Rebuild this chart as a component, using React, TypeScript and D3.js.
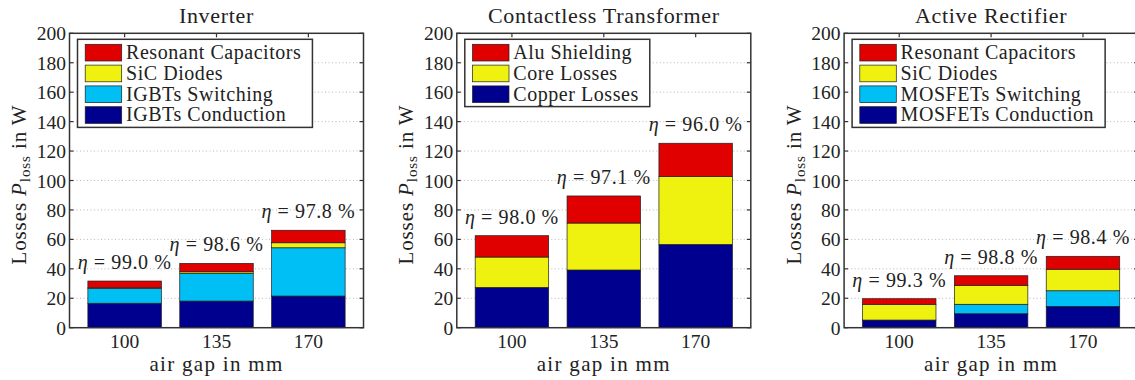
import React, { useEffect, useRef } from "react";
import * as d3 from "d3";

// Air gap categories shared by the three panels
const gaps = ["100", "135", "170"];
const yTicks = [0, 20, 40, 60, 80, 100, 120, 140, 160, 180, 200];

// Inverter losses in W (bottom to top of the stack)
const invConduction = [16.6, 18.1, 21.5];
const invSwitching = [10.2, 18.9, 32.8];
const invDiodes = [0.3, 1.0, 3.4];
const invCapacitors = [4.6, 5.7, 8.5];
const invEta = ["99.0", "98.6", "97.8"];

// Contactless transformer losses in W
const trCopper = [27.4, 39.2, 56.6];
const trCore = [20.6, 31.9, 46.2];
const trAlu = [14.5, 18.4, 22.5];
const trEta = ["98.0", "97.1", "96.0"];

// Active rectifier losses in W
const recConduction = [5.2, 9.5, 14.5];
const recSwitching = [0, 6.4, 10.6];
const recDiodes = [10.7, 12.9, 14.6];
const recCapacitors = [3.8, 6.5, 8.8];
const recEta = ["99.3", "98.8", "98.4"];

const NAVY = "#00008f";
const CYAN = "#00bff5";
const YELLOW = "#eef20e";
const RED = "#e00000";
const INK = "#222";
const FONT = "Liberation Serif, DejaVu Serif, serif";

type Series = { name: string; values: number[]; color: string };
type Panel = { title: string; series: Series[]; eta: string[] };

const panels: Panel[] = [
  {
    title: "Inverter",
    series: [
      { name: "IGBTs Conduction", values: invConduction, color: NAVY },
      { name: "IGBTs Switching", values: invSwitching, color: CYAN },
      { name: "SiC Diodes", values: invDiodes, color: YELLOW },
      { name: "Resonant Capacitors", values: invCapacitors, color: RED },
    ],
    eta: invEta,
  },
  {
    title: "Contactless Transformer",
    series: [
      { name: "Copper Losses", values: trCopper, color: NAVY },
      { name: "Core Losses", values: trCore, color: YELLOW },
      { name: "Alu Shielding", values: trAlu, color: RED },
    ],
    eta: trEta,
  },
  {
    title: "Active Rectifier",
    series: [
      { name: "MOSFETs Conduction", values: recConduction, color: NAVY },
      { name: "MOSFETs Switching", values: recSwitching, color: CYAN },
      { name: "SiC Diodes", values: recDiodes, color: YELLOW },
      { name: "Resonant Capacitors", values: recCapacitors, color: RED },
    ],
    eta: recEta,
  },
];

const W = 1135;
const H = 380;

export default function App() {
  const ref = useRef<SVGSVGElement | null>(null);

  useEffect(() => {
    const svg = d3.select(ref.current);
    svg.selectAll("*").remove();

    const top = 33.3;
    const bottom = 327.7;
    const axisW = 294;

    panels.forEach((p, i) => {
      const left = 69.5 + i * 387.3;
      const right = left + axisW;
      const x = d3.scaleBand<string>().domain(gaps).range([left, right]).paddingInner(0.2).paddingOuter(0.2);
      const y = d3.scaleLinear().domain([0, 200]).range([bottom, top]);
      const bw = x.bandwidth();
      const cx = (g: string) => (x(g) as number) + bw / 2;

      const g = svg.append("g").style("font-family", FONT).attr("fill", INK);

      // dotted horizontal grid
      g.append("g")
        .selectAll("line")
        .data(yTicks.filter((t) => t > 0 && t < 200))
        .join("line")
        .attr("x1", left)
        .attr("x2", right)
        .attr("y1", (d) => y(d))
        .attr("y2", (d) => y(d))
        .attr("stroke", "#b8b8b8")
        .attr("stroke-width", 1)
        .attr("stroke-dasharray", "1,2.5");

      // inward ticks on all four sides
      const ticks = g.append("g").attr("stroke", "#333").attr("stroke-width", 1.2);
      yTicks.forEach((t) => {
        ticks.append("line").attr("x1", left).attr("x2", left + 4).attr("y1", y(t)).attr("y2", y(t));
        ticks.append("line").attr("x1", right - 4).attr("x2", right).attr("y1", y(t)).attr("y2", y(t));
      });
      gaps.forEach((c) => {
        ticks.append("line").attr("x1", cx(c)).attr("x2", cx(c)).attr("y1", top).attr("y2", top + 4);
        ticks.append("line").attr("x1", cx(c)).attr("x2", cx(c)).attr("y1", bottom - 4).attr("y2", bottom);
      });

      // stacked bars
      const rows = gaps.map((gap, j) => {
        const r: Record<string, any> = { gap };
        p.series.forEach((s) => (r[s.name] = s.values[j]));
        return r;
      });
      const layers = d3.stack<Record<string, any>>().keys(p.series.map((s) => s.name))(rows);
      layers.forEach((layer, k) => {
        g.append("g")
          .attr("fill", p.series[k].color)
          .attr("stroke", "#1e1e1e")
          .attr("stroke-width", 0.7)
          .selectAll("rect")
          .data(layer)
          .join("rect")
          .attr("x", (d) => x(d.data.gap) as number)
          .attr("y", (d) => y(d[1]))
          .attr("width", bw)
          .attr("height", (d) => y(d[0]) - y(d[1]));
      });

      // efficiency labels above each bar
      const totals = layers[layers.length - 1];
      totals.forEach((d, j) => {
        const t = g
          .append("text")
          .attr("x", cx(d.data.gap))
          .attr("y", y(d[1]) - 12)
          .attr("text-anchor", "middle")
          .attr("font-size", 20)
          .attr("letter-spacing", 0.6)
          .style("white-space", "pre");
        t.append("tspan").attr("font-style", "italic").text("η");
        t.append("tspan").text(` = ${p.eta[j]} %`);
      });

      // axis box
      g.append("rect")
        .attr("x", left)
        .attr("y", top)
        .attr("width", axisW)
        .attr("height", bottom - top)
        .attr("fill", "none")
        .attr("stroke", "#333")
        .attr("stroke-width", 1.5);

      // y tick labels
      g.append("g")
        .selectAll("text")
        .data(yTicks)
        .join("text")
        .attr("x", left - 3.5)
        .attr("y", (d) => y(d))
        .attr("dy", 7)
        .attr("text-anchor", "end")
        .attr("font-size", 19.5)
        .text((d) => String(d));

      // x tick labels
      g.append("g")
        .selectAll("text")
        .data(gaps)
        .join("text")
        .attr("x", (d) => cx(d))
        .attr("y", 348)
        .attr("text-anchor", "middle")
        .attr("font-size", 19.5)
        .text((d) => d);

      // title
      g.append("text")
        .attr("x", (left + right) / 2)
        .attr("y", 23)
        .attr("text-anchor", "middle")
        .attr("font-size", 22)
        .attr("letter-spacing", 0.7)
        .text(p.title);

      // x axis label
      g.append("text")
        .attr("x", (left + right) / 2)
        .attr("y", 371)
        .attr("text-anchor", "middle")
        .attr("font-size", 21)
        .attr("letter-spacing", 1.3)
        .text("air gap in mm");

      // y axis label with subscript
      const yl = g
        .append("text")
        .attr("transform", `translate(${left - 43.5},${(top + bottom) / 2 + 4}) rotate(-90)`)
        .attr("text-anchor", "middle")
        .attr("font-size", 21)
        .attr("letter-spacing", 0.9)
        .style("white-space", "pre");
      yl.append("tspan").text("Losses ");
      yl.append("tspan").attr("font-style", "italic").text("P");
      yl.append("tspan").attr("font-size", 15).attr("dy", 4).text("loss");
      yl.append("tspan").attr("dy", -4).text(" in W");

      // legend, top entry is the top of the stack
      const entries = p.series.slice().reverse();
      const lg = g.append("g");
      const lx = left + 8;
      const ly = top + 6;
      const pitch = 20.8;
      const box = lg.append("rect").attr("x", lx).attr("y", ly).attr("fill", "#fff").attr("stroke", "#333").attr("stroke-width", 1.5);
      let maxW = 0;
      entries.forEach((s, k) => {
        const sy = ly + 5 + k * pitch;
        lg.append("rect")
          .attr("x", lx + 7.7)
          .attr("y", sy)
          .attr("width", 36.5)
          .attr("height", 16.7)
          .attr("fill", s.color)
          .attr("stroke", "#1e1e1e")
          .attr("stroke-width", 0.7);
        const t = lg
          .append("text")
          .attr("x", lx + 48.5)
          .attr("y", sy + 8.35 + 6.3)
          .attr("font-size", 20)
          .attr("letter-spacing", 0.55)
          .text(s.name);
        const node = t.node() as SVGTextElement;
        maxW = Math.max(maxW, node.getComputedTextLength());
      });
      box.attr("width", 48.5 + maxW + 11).attr("height", 5 + (entries.length - 1) * pitch + 16.7 + 4);
    });
  }, []);

  return (
    <svg
      ref={ref}
      width={W}
      height={H}
      viewBox={`0 0 ${W} ${H}`}
      style={{ position: "absolute", left: 0, top: 0, background: "#fff" }}
    />
  );
}
